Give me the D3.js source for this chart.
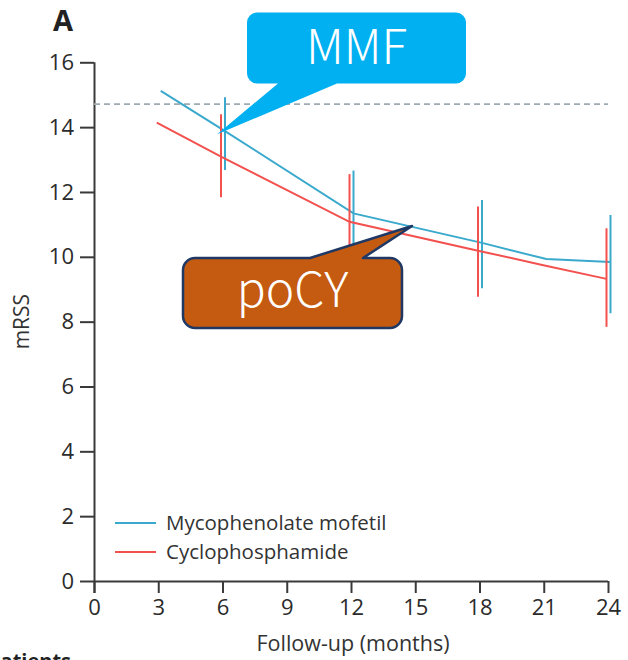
<!DOCTYPE html>
<html>
<head>
<meta charset="utf-8">
<script src="https://cdn.jsdelivr.net/npm/d3@7"></script>
<style>
  html, body { margin: 0; padding: 0; background: #fff; }
  svg { display: block; }
  .tick text { font-family: "Open Sans", sans-serif; fill: #2b2b2b; }
</style>
</head>
<body>
<div id="chart"></div>
<script>
// ---- data ----
const months = [3, 6, 12, 18, 21, 24];
const mmfMean = [15.12, 13.88, 11.34, 10.43, 9.93, 9.84];
const cyMean  = [14.14, 13.09, 11.08, 10.19, 9.75, 9.32];

// error bars only at these visits
const barMonths = [6, 12, 18, 24];
const mmfLow  = [12.68, 10.02, 9.03, 8.26];
const mmfHigh = [14.92, 12.66, 11.75, 11.29];
const cyLow   = [11.84, 9.61, 8.77, 7.84];
const cyHigh  = [14.40, 12.55, 11.55, 10.88];

const baseline = 14.71;          // dashed reference line
const xTicks = [0, 3, 6, 9, 12, 15, 18, 21, 24];
const yTicks = [0, 2, 4, 6, 8, 10, 12, 14, 16];

const seriesNames = ['Mycophenolate mofetil', 'Cyclophosphamide'];

// ---- layout ----
const W = 628, H = 660;
const C = { mmf: '#3aa9cc', cy: '#f2514e', axis: '#3a3a3a', dash: '#9eabb3' };
const FONT = '"Open Sans", sans-serif';

const svg = d3.select('#chart').append('svg').attr('width', W).attr('height', H);

const x = d3.scaleLinear().domain([0, 24]).range([94, 608]);
const y = d3.scaleLinear().domain([0, 16]).range([581, 62.3]);

// panel letter
svg.append('text').attr('x', 53).attr('y', 31)
  .style('font-family', FONT).style('font-weight', 700)
  .style('font-size', '29px').style('fill', '#222').text('A');

// axes
const yAxis = svg.append('g').attr('transform', `translate(${x(0)},0)`)
  .call(d3.axisLeft(y).tickValues(yTicks).tickSize(14).tickPadding(6));
const xAxis = svg.append('g').attr('transform', `translate(0,${y(0)})`)
  .call(d3.axisBottom(x).tickValues(xTicks).tickSize(12).tickPadding(6));
[yAxis, xAxis].forEach(g => {
  g.select('.domain').attr('stroke', C.axis).attr('stroke-width', 2);
  g.selectAll('.tick line').attr('stroke', C.axis).attr('stroke-width', 2);
  g.selectAll('.tick text').style('font-size', '22px');
});
// domain without outer tick stubs
yAxis.select('.domain').attr('d', `M0.5,${y(0) + 12}V${y(16)}`);
xAxis.select('.domain').attr('d', `M${x(0)},0.5H${x(24)}`);

// axis titles
svg.append('text').attr('transform', `translate(29,${y(8)}) rotate(-90)`)
  .attr('text-anchor', 'middle')
  .style('font-family', FONT).style('font-size', '21px').style('fill', '#333')
  .text('mRSS');
svg.append('text').attr('x', x(12) + 2).attr('y', 651).attr('text-anchor', 'middle')
  .style('font-family', FONT).style('font-size', '21.5px').style('fill', '#333')
  .text('Follow-up (months)');

// cut-off heading under the chart
svg.append('text').attr('x', -12).attr('y', 668)
  .style('font-family', FONT).style('font-weight', 700)
  .style('font-size', '20px').style('fill', '#222').text('Patients');

// dashed baseline
svg.append('line')
  .attr('x1', x(0)).attr('x2', x(24)).attr('y1', y(baseline)).attr('y2', y(baseline))
  .attr('stroke', C.dash).attr('stroke-width', 1.6).attr('stroke-dasharray', '6,4');

// series
const series = [
  { key: 'mmf', mean: mmfMean, lo: mmfLow, hi: mmfHigh, dx: 2.5 },
  { key: 'cy',  mean: cyMean,  lo: cyLow,  hi: cyHigh,  dx: -1.5 }
];
const line = d3.line().x(d => d[0]).y(d => d[1]);

series.forEach(s => {
  const pts = months.map((m, i) => [x(m) + s.dx, y(s.mean[i])]);
  svg.append('path').attr('d', line(pts))
    .attr('fill', 'none').attr('stroke', C[s.key]).attr('stroke-width', 2);
  svg.append('g').selectAll('line').data(barMonths).join('line')
    .attr('x1', m => x(m) + s.dx).attr('x2', m => x(m) + s.dx)
    .attr('y1', (m, i) => y(s.lo[i])).attr('y2', (m, i) => y(s.hi[i]))
    .attr('stroke', C[s.key]).attr('stroke-width', 2);
});

// legend
const leg = svg.append('g');
seriesNames.forEach((name, i) => {
  const ly = 523 + i * 29;
  const col = i === 0 ? C.mmf : C.cy;
  leg.append('line').attr('x1', 115).attr('x2', 156).attr('y1', ly).attr('y2', ly)
    .attr('stroke', col).attr('stroke-width', 2);
  leg.append('text').attr('x', 166).attr('y', ly + 7)
    .style('font-family', FONT).style('font-size', '20.5px').style('fill', '#333')
    .text(name);
});

// speech-bubble callouts: box in px, tip anchored in data units
function bubble(b) {
  const r = b.r, x0 = b.x0, x1 = b.x1, y0 = b.y0, y1 = b.y1;
  const tx = x(b.tip[0]), ty = y(b.tip[1]);
  const p = d3.path();
  p.moveTo(x0 + r, y0);
  if (b.side === 'top') { p.lineTo(b.base[0], y0); p.lineTo(tx, ty); p.lineTo(b.base[1], y0); }
  p.lineTo(x1 - r, y0); p.arcTo(x1, y0, x1, y0 + r, r);
  p.lineTo(x1, y1 - r); p.arcTo(x1, y1, x1 - r, y1, r);
  if (b.side === 'bottom') { p.lineTo(b.base[1], y1); p.lineTo(tx, ty); p.lineTo(b.base[0], y1); }
  p.lineTo(x0 + r, y1); p.arcTo(x0, y1, x0, y1 - r, r);
  p.lineTo(x0, y0 + r); p.arcTo(x0, y0, x0 + r, y0, r);
  p.closePath();
  return p.toString();
}
const callouts = [
  { label: 'MMF', x0: 247, x1: 466, y0: 12.5, y1: 83.5, r: 10, side: 'bottom', base: [278, 337],
    tip: [5.75, 13.78], fill: '#00b0f0', stroke: 'none', ty: 63.5 },
  { label: 'poCY', x0: 183, x1: 402, y0: 258, y1: 328, r: 12, side: 'top', base: [310, 363],
    tip: [14.85, 10.95], fill: '#c55a11', stroke: '#1f3864', ty: 307 }
];
callouts.forEach(b => {
  svg.append('path').attr('d', bubble(b)).attr('fill', b.fill)
    .attr('stroke', b.stroke).attr('stroke-width', 2.5).attr('stroke-linejoin', 'round');
  svg.append('text').attr('x', (b.x0 + b.x1) / 2).attr('y', b.ty).attr('text-anchor', 'middle')
    .style('font-family', '"Noto Sans CJK JP", "Noto Sans", sans-serif').style('font-weight', 300)
    .style('font-size', '48px').style('fill', '#fff').text(b.label);
});
</script>
</body>
</html>
